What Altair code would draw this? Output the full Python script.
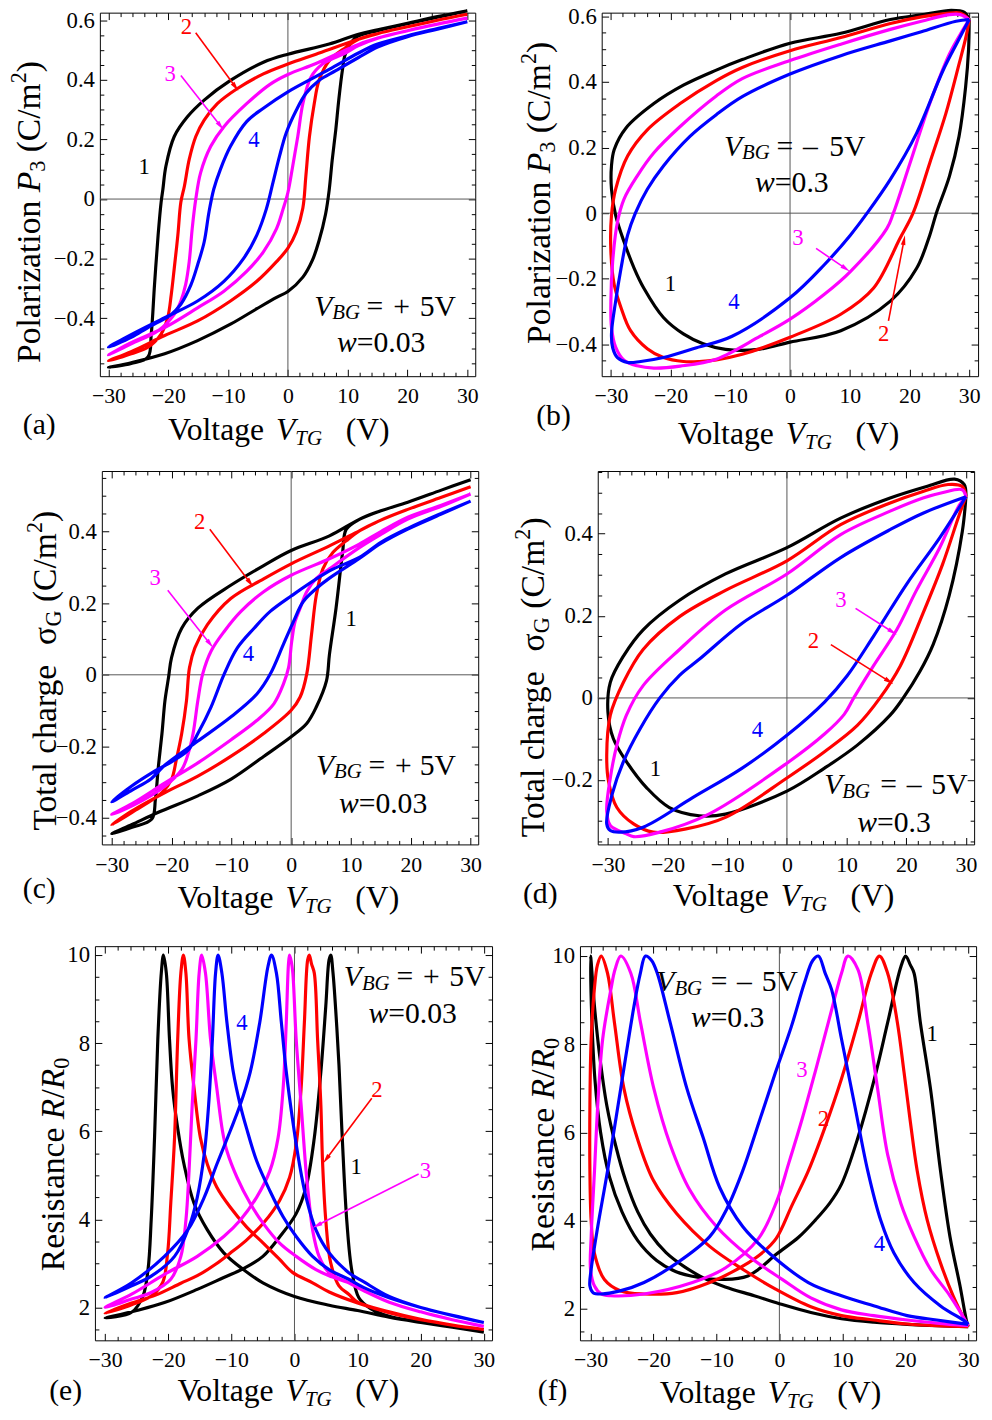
import math
import altair as alt
import pandas as pd

FONT = "Liberation Serif"
CURVE_COLORS = ["#000000", "#ff0000", "#ff00ff", "#0000ff"]

# ---------------- data: (V_TG, value) along each hysteresis loop ----------------
a1 = [(30,0.632),(25,0.612),(20,0.59),(15,0.568),(11.8,0.553),(6.9,0.52),(0,0.486),(-4.1,0.459),(-9.6,0.398),(-14,0.332),(-16.8,0.276),(-19,0.21),(-20.4,0.11),(-20.9,0.033),(-21.2,-0.011),(-21.7,-0.121),(-22.3,-0.287),(-22.85,-0.453),(-23.4,-0.53),(-26.2,-0.552),(-30,-0.565),
      (-26.2,-0.549),(-20.6,-0.519),(-15.1,-0.475),(-9.6,-0.42),(-5.2,-0.368),(-1.9,-0.33),(0,-0.31),(2.5,-0.262),(4.1,-0.205),(5.2,-0.14),(6.3,-0.05),(6.9,0.03),(7.4,0.13),(8,0.232),(8.5,0.332),(9.1,0.431),(9.6,0.486),(11.3,0.541),(15,0.565),(20,0.588),(25,0.61),(30,0.632)]
a2 = [(30,0.62),(25,0.6),(20,0.578),(15,0.555),(11.8,0.536),(4.7,0.486),(0,0.453),(-4.1,0.42),(-8.5,0.37),(-11.8,0.32),(-14,0.265),(-15.4,0.21),(-16.5,0.133),(-17.3,0.044),(-17.9,-0.011),(-18.4,-0.121),(-19,-0.232),(-19.5,-0.32),(-20.1,-0.398),(-21.2,-0.453),(-23.4,-0.497),(-26.2,-0.519),(-30,-0.543),
      (-26.2,-0.512),(-20.6,-0.458),(-15.1,-0.409),(-9.6,-0.342),(-5.2,-0.276),(-1.9,-0.21),(0,-0.165),(1.4,-0.11),(2.5,-0.03),(3,0.077),(3.6,0.21),(4.4,0.32),(5.2,0.398),(6.9,0.464),(9.6,0.508),(11.8,0.536),(15,0.555),(20,0.578),(25,0.6),(30,0.62)]
a3 = [(30,0.607),(25,0.587),(20,0.565),(15,0.54),(11.8,0.519),(4.7,0.455),(0,0.418),(-3,0.385),(-6.9,0.32),(-10.7,0.243),(-12.9,0.177),(-14.6,0.088),(-15.4,0),(-16,-0.099),(-16.5,-0.21),(-17.1,-0.287),(-17.9,-0.342),(-19,-0.387),(-21.7,-0.442),(-26.2,-0.486),(-30,-0.523),
      (-26.2,-0.482),(-20.6,-0.431),(-15.1,-0.365),(-10.7,-0.309),(-6.9,-0.243),(-4.1,-0.177),(-1.9,-0.099),(-0.8,-0.033),(0,0.022),(0.8,0.11),(1.65,0.21),(2.5,0.32),(3.85,0.409),(5.8,0.453),(9.6,0.49),(11.8,0.515),(15,0.54),(20,0.565),(25,0.587),(30,0.607)]
a4 = [(30,0.595),(25,0.572),(20,0.548),(15,0.52),(11.8,0.49),(6.9,0.435),(0,0.36),(-4.1,0.305),(-6.9,0.26),(-9.6,0.177),(-11.3,0.099),(-12.4,0.033),(-13.2,-0.044),(-14,-0.144),(-15.1,-0.221),(-16.2,-0.287),(-17.9,-0.353),(-19.5,-0.387),(-23.4,-0.431),(-26.2,-0.464),(-30,-0.497),
      (-26.2,-0.455),(-20.6,-0.398),(-15.1,-0.342),(-10.7,-0.276),(-7.4,-0.199),(-5.2,-0.121),(-3.6,-0.033),(-2.5,0.055),(-1.4,0.144),(-0.3,0.221),(1.4,0.298),(3,0.354),(5.2,0.398),(8,0.431),(11.8,0.475),(15,0.51),(20,0.545),(25,0.57),(30,0.595)]

b1 = [(30,0.59),(29.2,0.612),(27,0.618),(22.3,0.605),(16.8,0.59),(8.5,0.548),(0,0.518),(-8,0.468),(-12.35,0.436),(-17.86,0.39),(-22.8,0.334),(-27.5,0.259),(-29.44,0.194),(-29.9,0.144),(-29.9,0.073),(-29.2,-0.007),(-27.8,-0.087),(-26.1,-0.168),(-24.5,-0.228),(-21.2,-0.318),(-17.86,-0.368),(-14.55,-0.398),(-10.8,-0.415),(-5.3,-0.415),(0,-0.393),(8.5,-0.358),(16.8,-0.268),(21.2,-0.168),(23.4,-0.067),(24.5,0),(26.7,0.113),(28.3,0.234),(29.4,0.384),(29.9,0.5),(30,0.59)]
b2 = [(30,0.59),(28.5,0.61),(26,0.608),(22,0.598),(16.8,0.578),(8.5,0.535),(0,0.495),(-8,0.444),(-12.35,0.404),(-18.4,0.334),(-23.9,0.254),(-27.2,0.174),(-29.2,0.073),(-29.9,-0.007),(-30,-0.117),(-29.44,-0.218),(-28.3,-0.288),(-26.7,-0.358),(-23.9,-0.413),(-21.2,-0.44),(-17.86,-0.452),(-15.2,-0.452),(-12.35,-0.447),(-8,-0.43),(0,-0.378),(8.5,-0.308),(14,-0.228),(18.4,-0.077),(20.6,0),(23.4,0.153),(26.1,0.304),(28.3,0.454),(29.5,0.54),(30,0.59)]
b3 = [(30,0.59),(28.5,0.605),(26.7,0.605),(22,0.585),(16.8,0.56),(8.5,0.515),(0,0.465),(-8,0.41),(-12.35,0.357),(-18.4,0.264),(-22.8,0.184),(-25.6,0.113),(-27.8,0.043),(-28.9,-0.027),(-29.7,-0.147),(-30,-0.268),(-29.9,-0.348),(-29.2,-0.408),(-27.8,-0.448),(-25.6,-0.465),(-22.8,-0.472),(-18.4,-0.466),(-12.35,-0.445),(-5,-0.375),(0,-0.323),(5.7,-0.248),(10.1,-0.178),(16.2,-0.047),(17.3,0),(20.1,0.153),(23.4,0.334),(26.7,0.485),(29,0.56),(30,0.59)]
b4 = [(30,0.59),(27.8,0.585),(22,0.553),(16.8,0.525),(8.5,0.48),(0,0.424),(-8,0.355),(-12.35,0.3),(-16.76,0.234),(-21.2,0.144),(-23.9,0.073),(-25.9,0),(-27.2,-0.067),(-28.3,-0.168),(-29.2,-0.268),(-29.9,-0.368),(-29.7,-0.41),(-28.9,-0.44),(-27.2,-0.455),(-25,-0.452),(-21.2,-0.44),(-15.66,-0.41),(-9.7,-0.375),(0,-0.258),(5.7,-0.158),(10.1,-0.067),(12.9,0),(16.8,0.103),(21.2,0.244),(25.6,0.434),(28,0.52),(30,0.59)]

c1 = [(30,0.545),(25,0.515),(19.5,0.482),(15,0.458),(11.4,0.434),(6.4,0.388),(0,0.347),(-4.6,0.305),(-10.1,0.25),(-15.6,0.186),(-18.3,0.13),(-20,0.048),(-20.5,-0.007),(-21.1,-0.072),(-21.6,-0.164),(-22.2,-0.256),(-22.7,-0.348),(-23.3,-0.403),(-26.6,-0.426),(-30,-0.444),
      (-26.6,-0.418),(-22.2,-0.384),(-15.6,-0.338),(-10.1,-0.292),(-4.6,-0.228),(0,-0.173),(2.6,-0.136),(4.2,-0.09),(5.9,-0.017),(6.4,0.057),(7.5,0.186),(8.6,0.342),(9.2,0.406),(11.4,0.434),(15,0.458),(19.5,0.482),(25,0.515),(30,0.545)]
c2 = [(30,0.525),(25,0.495),(19.5,0.462),(15,0.432),(11.4,0.402),(6.4,0.36),(0,0.31),(-4.6,0.268),(-10.1,0.213),(-14,0.14),(-16.1,0.075),(-17,0.02),(-17.5,-0.072),(-18.3,-0.164),(-19.2,-0.237),(-20,-0.292),(-21.6,-0.329),(-26.6,-0.384),(-30,-0.419),
      (-26.6,-0.38),(-21.1,-0.329),(-15.6,-0.283),(-10.1,-0.228),(-4.6,-0.164),(0,-0.099),(1.5,-0.062),(2.6,0.002),(3.4,0.112),(4.2,0.222),(5.3,0.296),(7,0.342),(9.2,0.374),(11.4,0.402),(15,0.432),(19.5,0.462),(25,0.495),(30,0.525)]
c3 = [(30,0.505),(25,0.473),(19.5,0.44),(15,0.4),(11.4,0.365),(6.4,0.324),(0,0.278),(-4.6,0.232),(-8.4,0.177),(-11.2,0.121),(-13.4,0.066),(-14.8,0.002),(-15.6,-0.072),(-16.4,-0.164),(-17.2,-0.219),(-18.3,-0.265),(-21.1,-0.311),(-26.6,-0.366),(-30,-0.39),
      (-26.6,-0.36),(-21.1,-0.302),(-15.6,-0.246),(-10.1,-0.182),(-5.7,-0.127),(-2.9,-0.081),(-1.3,-0.026),(-0.44,0.02),(0.1,0.094),(0.66,0.149),(1.5,0.186),(2.6,0.232),(4.2,0.269),(6.4,0.296),(11.4,0.355),(15,0.392),(19.5,0.435),(25,0.47),(30,0.505)]
c4 = [(30,0.485),(25,0.45),(19.5,0.409),(15,0.37),(11.4,0.328),(6.4,0.29),(0,0.22),(-3.5,0.177),(-6.2,0.13),(-9,0.075),(-11.2,0.002),(-13.4,-0.09),(-15.6,-0.164),(-17.2,-0.21),(-19.4,-0.237),(-23.3,-0.274),(-26.6,-0.31),(-30,-0.355),
      (-26.6,-0.322),(-23.4,-0.29),(-21.1,-0.252),(-15.6,-0.185),(-10.1,-0.118),(-5.7,-0.053),(-3.5,0.002),(-1.3,0.085),(0.4,0.149),(2,0.204),(4.2,0.241),(6.4,0.27),(11.4,0.325),(15,0.367),(19.5,0.407),(25,0.448),(30,0.485)]

d1 = [(30,0.49),(29.7,0.52),(28.1,0.533),(23.4,0.515),(17.3,0.487),(9,0.438),(0,0.366),(-10.3,0.302),(-18,0.238),(-24.1,0.166),(-27.4,0.102),(-29.6,0.038),(-30,-0.034),(-29.1,-0.099),(-26.9,-0.155),(-23.5,-0.219),(-19.7,-0.267),(-14.7,-0.287),(-10.3,-0.283),(0,-0.227),(6.3,-0.171),(11.8,-0.115),(17.3,-0.042),(19.5,0),(22.3,0.065),(24.5,0.13),(27.2,0.25),(29.4,0.406),(30,0.49)]
d2 = [(30,0.49),(29.4,0.515),(27,0.52),(22.8,0.503),(17.3,0.475),(9,0.422),(0,0.334),(-10.3,0.262),(-18,0.198),(-24.1,0.118),(-27.4,0.038),(-29.6,-0.042),(-30.2,-0.139),(-29.9,-0.203),(-28.5,-0.267),(-25.7,-0.307),(-22.4,-0.327),(-16.9,-0.319),(-10.3,-0.291),(0,-0.195),(6.3,-0.131),(11.8,-0.067),(15.6,0),(19,0.078),(22.8,0.206),(26.1,0.326),(28.9,0.447),(30,0.49)]
d3 = [(30,0.49),(29.4,0.507),(26,0.5),(22.8,0.487),(17.3,0.455),(9,0.398),(0,0.302),(-10.3,0.214),(-18,0.118),(-24.1,0.03),(-26.9,-0.042),(-28.5,-0.115),(-29.6,-0.195),(-30.2,-0.275),(-29.6,-0.311),(-26.9,-0.331),(-25.7,-0.338),(-21.3,-0.327),(-13.1,-0.283),(0,-0.159),(6.3,-0.088),(9.6,-0.04),(11.2,0),(14.5,0.078),(18.4,0.166),(21.7,0.262),(25.6,0.366),(28.9,0.47),(30,0.49)]
d4 = [(30,0.49),(22.8,0.45),(17.3,0.41),(9,0.342),(0,0.25),(-7.5,0.182),(-14.7,0.094),(-18,0.055),(-21.3,0),(-24.6,-0.075),(-27.4,-0.155),(-29.3,-0.235),(-30.2,-0.307),(-29.6,-0.323),(-28,-0.327),(-24.1,-0.315),(-15.8,-0.243),(-7.5,-0.171),(0,-0.091),(6.3,-0.01),(10.1,0.054),(14.5,0.15),(20.1,0.278),(25.6,0.39),(30,0.49)]

e1 = [(30,1.44),(25,1.55),(20,1.66),(15,1.78),(10,1.93),(5.5,2.05),(0,2.25),(-5,2.56),(-8.1,2.86),(-11.2,3.24),(-13.8,3.76),(-15.9,4.36),(-17.5,5.25),(-18.5,6.07),(-19.3,6.97),(-19.8,8.09),(-20.3,9.59),(-20.76,10),(-21.1,9.59),(-21.65,8.09),(-22.17,5.85),(-22.7,3.98),(-23.2,2.86),(-24,2.26),(-25.8,1.89),(-30,1.76),
      (-25,1.93),(-20.6,2.11),(-15.4,2.41),(-11.2,2.68),(-8.1,2.88),(-5,3.16),(-2.3,3.61),(0.27,4.13),(1.83,4.73),(3.14,5.85),(4.18,7.35),(4.96,8.84),(5.48,9.89),(5.75,10),(6.1,9.6),(6.6,8.6),(7.05,7.5),(7.57,5.85),(8.3,3.94),(9.1,2.82),(10.2,2.22),(12,1.98),(15,1.8),(20,1.67),(25,1.55),(30,1.44)]
e2 = [(30,1.5),(25,1.6),(20,1.72),(15,1.88),(10,2.1),(5.5,2.35),(2.87,2.56),(-0.26,2.79),(-2.35,3.09),(-4.95,3.46),(-7.6,3.83),(-10.2,4.28),(-12.3,4.73),(-13.8,5.25),(-14.9,5.85),(-15.9,6.97),(-16.7,8.09),(-17.2,9.59),(-17.6,10),(-18,9.59),(-18.5,8.09),(-19,5.85),(-19.6,4.36),(-20.1,3.23),(-20.9,2.56),(-22.7,2.26),(-25.8,2.06),(-30,1.87),
      (-25.8,2.1),(-22,2.28),(-18,2.55),(-15.4,2.72),(-12.5,2.98),(-10.2,3.23),(-7.6,3.53),(-4.95,3.91),(-2.35,4.43),(-0.78,4.95),(0.27,5.7),(1.05,6.97),(1.57,8.47),(2.09,9.89),(2.35,10),(2.7,9.8),(3.14,9.59),(3.66,8.09),(4.18,6.6),(4.44,5.33),(4.96,3.98),(5.74,3.01),(7.05,2.49),(8.6,2.3),(10,2.12),(15,1.9),(20,1.73),(25,1.6),(30,1.5)]
e3 = [(30,1.57),(25,1.72),(20,1.9),(15,2.12),(11,2.38),(8.6,2.56),(5.48,2.72),(3.4,2.86),(0.27,3.16),(-2.35,3.46),(-4.95,3.91),(-7,4.36),(-9.1,4.95),(-10.7,5.55),(-11.4,6.0),(-12.3,6.97),(-13.3,8.09),(-14.1,9.59),(-14.7,10),(-15.1,9.59),(-15.6,8.09),(-16.2,6.6),(-16.7,5.1),(-17.2,3.98),(-18,3.16),(-19.6,2.64),(-22.7,2.34),(-25.8,2.19),(-30,2.0),
      (-25.8,2.3),(-20.6,2.75),(-15.4,3.16),(-11.2,3.61),(-8.6,3.98),(-6,4.5),(-3.9,5.1),(-2.6,5.85),(-1.8,6.97),(-1.3,8.47),(-0.95,9.8),(-0.78,10),(-0.5,9.85),(-0.26,9.59),(0.27,8.09),(1.05,6.6),(1.83,5.1),(2.35,4.36),(2.87,3.76),(3.9,3.16),(5.48,2.79),(8.6,2.56),(11,2.38),(15,2.12),(20,1.9),(25,1.72),(30,1.57)]
e4 = [(30,1.66),(25,1.82),(20,2.0),(15,2.22),(11,2.45),(8.6,2.64),(5.48,2.86),(2.87,3.16),(0.27,3.61),(-1.8,4.06),(-3.9,4.65),(-6,5.33),(-7.6,6.07),(-8.6,6.6),(-9.7,7.35),(-10.7,8.47),(-11.5,9.59),(-12.1,10),(-12.5,9.59),(-13,8.09),(-13.6,6.6),(-14.3,5.48),(-15.4,4.5),(-16.7,3.83),(-19,3.16),(-22.7,2.71),(-25.8,2.49),(-30,2.22),
      (-25.8,2.56),(-20.6,3.16),(-16.9,3.76),(-14.3,4.5),(-12.3,5.25),(-10.2,6.0),(-8.6,6.6),(-7,7.35),(-5.5,8.47),(-4.2,9.74),(-3.64,10),(-2.86,9.59),(-2.08,8.47),(-1.3,7.35),(-0.26,6.22),(0.79,5.25),(1.83,4.5),(3.4,3.76),(5.48,3.24),(8.6,2.79),(11,2.58),(15,2.25),(20,2.0),(25,1.82),(30,1.66)]

f1 = [(30,1.6),(25,1.62),(20.3,1.65),(15,1.7),(9.87,1.78),(5,1.92),(0,2.12),(-4,2.3),(-8.6,2.5),(-12,2.7),(-15,2.95),(-18,3.28),(-20.5,3.7),(-22.5,4.2),(-24.4,4.9),(-26,5.7),(-27.4,6.6),(-28.6,7.8),(-29.4,8.9),(-30,10),
      (-29.8,8.6),(-29.3,7.2),(-28.4,6.0),(-27,5.0),(-25,4.2),(-22.5,3.55),(-19.5,3.1),(-16.5,2.85),(-13,2.72),(-8.6,2.67),(-5,2.75),(-3.3,2.9),(-0.4,3.25),(3,3.62),(5.68,4.01),(8,4.4),(9.87,4.83),(12.47,5.88),(15.1,7.22),(17.2,8.49),(19.3,9.76),(20.06,10),(20.8,9.8),(21.4,9.61),(22.4,8.49),(24,7.0),(25.6,5.13),(27.1,3.64),(28.7,2.52),(29.7,1.75),(30,1.6)]
f2 = [(30,1.6),(25,1.62),(20.3,1.66),(15,1.75),(9.87,1.85),(5,2.05),(-0.6,2.45),(-5.83,2.9),(-11.07,3.42),(-16.3,4.16),(-20,4.91),(-22.6,5.88),(-24.7,7.0),(-26.2,8.49),(-27.3,9.61),(-28.3,10),(-28.9,9.8),(-29.4,9.24),(-29.9,8.12),(-30.1,6.63),(-30.1,5.13),
      (-29.9,4.0),(-29.4,3.27),(-27.8,2.67),(-25.2,2.41),(-21.5,2.34),(-16.3,2.37),(-11.07,2.6),(-5.83,2.97),(-2.5,3.3),(-0.5,3.6),(2,4.35),(4.6,5.13),(7.2,6.1),(9.87,7.22),(12.47,8.49),(14.6,9.61),(15.9,10),(17.2,9.61),(18.75,8.49),(19.8,7.37),(20.8,6.25),(21.9,5.13),(23.5,4.01),(25.6,3.04),(27.6,2.3),(29.7,1.68),(30,1.6)]
f3 = [(30,1.62),(25,1.68),(20.3,1.75),(15,1.85),(9.87,1.98),(5,2.25),(0.45,2.67),(-4.8,3.19),(-10,3.87),(-14.2,4.69),(-17.35,5.73),(-19.95,7.0),(-22.06,8.49),(-23.6,9.61),(-25.2,10),(-26.1,9.7),(-26.77,9.24),(-28.07,8.12),(-28.85,6.63),(-29.37,5.13),(-29.9,3.64),(-30,2.9),
      (-29.37,2.52),(-28.3,2.34),(-26.8,2.3),(-21.5,2.34),(-13.8,2.6),(-8.6,2.93),(-3.3,3.6),(-0.4,4.45),(1.48,5.3),(3.6,6.3),(5.68,7.37),(7.77,8.49),(9.87,9.61),(10.9,10),(12.47,9.7),(14.04,8.49),(15.6,7.0),(17.2,5.5),(19.3,4.39),(21.4,3.64),(24,2.9),(27.1,2.3),(29.7,1.7),(30,1.62)]
f4 = [(30,1.65),(25,1.75),(20.3,1.85),(15.1,2.07),(9.87,2.3),(4.6,2.6),(-1.65,3.27),(-5.83,3.87),(-9.5,4.76),(-12.1,5.88),(-14.7,7.0),(-17.35,8.49),(-19.4,9.61),(-20.3,9.9),(-21.27,10),(-22.1,9.6),(-23.1,8.86),(-25.2,7.0),(-27.3,5.13),(-28.85,3.87),(-29.9,2.9),(-30.1,2.52),
      (-29.6,2.37),(-28.3,2.34),(-25.3,2.41),(-21.5,2.6),(-16.3,3.04),(-11.07,3.64),(-8.45,4.24),(-5.83,5.13),(-3.2,6.25),(-0.6,7.37),(1.9,8.4),(4,9.4),(5.3,9.9),(6.2,10),(7.3,9.6),(8.3,9.24),(9.87,8.12),(11.95,6.63),(14.04,5.13),(16.1,4.01),(18.2,3.27),(21.4,2.6),(25.6,2.07),(29.7,1.7),(30,1.65)]

XT = [-30, -20, -10, 0, 10, 20, 30]
YT_AB = [-0.4, -0.2, 0, 0.2, 0.4, 0.6]
YT_C = [-0.4, -0.2, 0, 0.2, 0.4]
YT_D = [-0.2, 0, 0.2, 0.4]
YT_EF = [2, 4, 6, 8, 10]

RW = {' ': .25, '(': .333, ')': .333, '/': .278, '=': .564, '+': .564, '–': .5, '.': .25,
      'P': .556, 'o': .5, 'l': .278, 'a': .444, 'r': .333, 'i': .278, 'z': .444, 't': .278,
      'n': .5, 'T': .611, 'c': .444, 'h': .5, 'g': .5, 'e': .444, 'C': .667, 'm': .778,
      'R': .667, 's': .389, 'σ': .55, 'V': .722, 'G': .722, 'B': .667, 'w': .722}
IW = {'V': .611, 'B': .611, 'G': .722, 'T': .556, 'P': .611, 'R': .611, 'w': .667}


def tw(s, italic):
    tab = IW if italic else RW
    return sum(tab.get(ch, RW.get(ch, 0.5)) for ch in s)


def run(pieces, x0, y0, size, vertical=False):
    out, adv = [], 0.0
    for txt, st in pieces:
        it = st in ('i', 'isub')
        small = st in ('sub', 'isub', 'sup')
        fs = size * (0.66 if small else 1.0)
        shift = size * 0.15 if st in ('sub', 'isub') else (-size * 0.42 if st == 'sup' else 0.0)
        if txt.strip():
            if vertical:
                out.append((txt, x0 + shift, y0 - adv, fs, it, 270, '#000000'))
            else:
                out.append((txt, x0 + adv, y0 + shift, fs, it, 0, '#000000'))
        adv += tw(txt, it) * fs
    return out


def vbg(sign, xv, base, xbg, xeq, xs, x5, xw, xweq, basew, wtext):
    k = '#000000'
    return [("V", xv, base, 30, True, 0, k), ("BG", xbg, base + 3.3, 21, True, 0, k),
            ("=", xeq, base, 30, False, 0, k), (sign, xs, base, 30, False, 0, k),
            ("5V", x5, base, 30, False, 0, k), ("w", xw, basew, 30, True, 0, k),
            (wtext, xweq, basew, 30, False, 0, k)]


def num(t, x, y, ci):
    return (t, x, y, 23, False, 0, CURVE_COLORS[ci])


PIECES_P = [("Polarization", 'n'), (" ", 'n'), ("P", 'i'), ("3", 'sub'), (" ", 'n'), ("(C/m", 'n'), ("2", 'sup'), (")", 'n')]
PIECES_S = [("Total charge", 'n'), ("  ", 'n'), ("σ", 'n'), ("G", 'sub'), (" ", 'n'), ("(C/m", 'n'), ("2", 'sup'), (")", 'n')]
PIECES_R = [("Resistance", 'n'), (" ", 'n'), ("R", 'i'), ("/", 'n'), ("R", 'i'), ("0", 'sub')]
PIECES_X = [("Voltage", 'n'), (" ", 'n'), ("V", 'i'), ("TG", 'isub'), ("   ", 'n'), ("(V)", 'n')]

PANELS = {
    'a': dict(left=98, top=8, w=380, h=368, box=(3, 500, -6, 460),
              xd=(-31.437, 31.321), yd=(-0.5943, 0.6255), yt=YT_AB,
              ystep=0.05, curves=[a1, a2, a3, a4], zero_h=True,
              texts=run(PIECES_P, 37.3, 362.7, 34, True) + run(PIECES_X, 167, 440.7, 32)
              + [("(a)", 20, 435, 30, False, 0, '#000000')]
              + vbg('+', 315, 315, 333.3, 368, 395, 421.7, 338, 358, 351.7, '=0.03')
              + [num("1", 137, 171.7, 0), num("2", 180, 30, 1), num("3", 163.3, 76.7, 2), num("4", 248.3, 144, 3)],
              arrows=[(195, 28.3, 238.3, 87.3, 1), (180, 71.7, 223.3, 126.7, 2)]),
    'b': dict(left=604, top=8, w=381, h=368, box=(500, 990, -6, 460),
              xd=(-31.538, 31.489), yd=(-0.4967, 0.611), yt=YT_AB,
              ystep=0.05, curves=[b1, b2, b3, b4], zero_h=True,
              texts=run(PIECES_P, 552, 343.3, 34, True) + run(PIECES_X, 681, 445, 32)
              + [("(b)", 537.7, 425, 30, False, 0, '#000000')]
              + vbg('–', 727.7, 153.3, 746, 781, 807.7, 834.3, 759.3, 779.3, 190, '=0.3')
              + [num("1", 667.7, 290, 0), num("4", 732, 308.3, 3), num("3", 797, 243.3, 2), num("2", 883.7, 340, 1)],
              arrows=[(821, 246.7, 855.3, 270, 2), (894.3, 320, 911, 233.3, 1)]),
    'c': dict(left=100, top=466, w=381, h=378, box=(3, 498, 456, 928),
              xd=(-31.652, 31.272), yd=(-0.4737, 0.5691), yt=YT_C,
              ystep=0.05, curves=[c1, c2, c3, c4], zero_h=True,
              texts=run(PIECES_S, 53.5, 830, 34, True) + run(PIECES_X, 176.7, 908.3, 32)
              + [("(c)", 20, 898.3, 30, False, 0, '#000000')]
              + vbg('+', 316.7, 773.3, 335, 370, 396.7, 421.7, 340, 360, 811.7, '=0.03')
              + [num("2", 193.3, 525, 1), num("3", 148.3, 581.7, 2), num("4", 242.7, 658.3, 3), num("1", 346.7, 622.7, 0)],
              arrows=[(209.3, 525, 253.3, 583.3, 1), (166.7, 586.7, 212.7, 645, 2)]),
    'd': dict(left=600, top=466, w=381, h=378, box=(498, 990, 456, 928),
              xd=(-31.705, 31.374), yd=(-0.3569, 0.5528), yt=YT_D,
              ystep=0.05, curves=[d1, d2, d3, d4], zero_h=True,
              texts=run(PIECES_S, 546, 836.7, 34, True) + run(PIECES_X, 676, 906.7, 32)
              + [("(d)", 524.3, 903.3, 30, False, 0, '#000000')]
              + vbg('–', 829.3, 793.3, 847.6, 886, 912.7, 937.7, 862.7, 882.7, 831.7, '=0.3')
              + [num("3", 840.3, 603.3, 2), num("2", 812.7, 645, 1), num("4", 756, 735, 3), num("1", 652.7, 775, 0)],
              arrows=[(861, 605, 902.7, 631.7, 2), (836, 641.7, 899.3, 681.7, 1)]),
    'e': dict(left=93, top=941, w=402, h=399, box=(3, 510, 924, 1415),
              xd=(-31.612, 31.299), yd=(1.2536, 10.2018), yt=YT_EF,
              ystep=0.5, curves=[e1, e2, e3, e4], zero_h=False,
              texts=run(PIECES_R, 61.7, 1270, 34, True) + run(PIECES_X, 176.7, 1401.7, 32)
              + [("(e)", 46.7, 1400, 30, False, 0, '#000000')]
              + vbg('+', 345, 981.7, 363.3, 398.3, 425, 451.7, 370, 390, 1018.3, '=0.03')
              + [num("4", 236, 1026, 3), num("2", 372.7, 1094, 1), num("1", 351.7, 1171.7, 0), num("3", 421.7, 1176, 2)],
              arrows=[(373.3, 1095, 324, 1160.7, 1), (420.7, 1171.7, 313.3, 1226, 2)]),
    'f': dict(left=582, top=941, w=401, h=399, box=(510, 990, 924, 1415),
              xd=(-31.679, 31.252), yd=(1.2898, 10.2239), yt=YT_EF,
              ystep=0.5, curves=[f1, f2, f3, f4], zero_h=False,
              texts=run(PIECES_R, 556, 1250, 34, True) + run(PIECES_X, 662.7, 1403.3, 32)
              + [("(f)", 539.3, 1400, 30, False, 0, '#000000')]
              + vbg('–', 659.3, 986.7, 677.6, 714.3, 741, 766, 694.3, 714.3, 1023.3, '=0.3')
              + [num("1", 932.7, 1036.7, 0), num("3", 801, 1073.3, 2), num("2", 822.7, 1123.3, 1), num("4", 879.3, 1250, 3)],
              arrows=[]),
}

HEAD_PATH = "M0,-1L0.42,0.8L-0.42,0.8Z"
HEAD_LEN = 10.0


def minor_vals(lo, hi, step, major_step):
    out = []
    k = math.ceil(lo / step)
    while k * step <= hi:
        v = round(k * step, 4)
        r = v / major_step
        if abs(r - round(r)) > 1e-6:
            out.append(v)
        k += 1
    return out


def tick_layer(df, xs, ys, xv, yv, size, xo, yo):
    common = dict(labels=False, domain=False, grid=False, title=None, ticks=True, tickSize=size,
                  offset=-size, tickColor='black', tickWidth=1, minExtent=0, maxExtent=0)
    return alt.Chart(df).mark_point(opacity=0).encode(
        x=alt.X('x:Q', scale=xs, axis=alt.Axis(orient=xo, values=xv, **common)),
        y=alt.Y('y:Q', scale=ys, axis=alt.Axis(orient=yo, values=yv, **common)))


def layout_rect(x0, x1, y0, y1):
    return alt.Chart(pd.DataFrame({'z': [0]})).mark_rect(color='white', opacity=0.01).encode(
        x=alt.value(x0), x2=alt.value(x1), y=alt.value(y0), y2=alt.value(y1))


def build(key):
    P = PANELS[key]
    xd, yd = P['xd'], P['yd']
    xs = alt.Scale(domain=list(xd), nice=False, zero=False)
    ys = alt.Scale(domain=list(yd), nice=False, zero=False)

    def conv(px, py):
        x = xd[0] + (px - P['left']) / P['w'] * (xd[1] - xd[0])
        y = yd[1] - (py - P['top']) / P['h'] * (yd[1] - yd[0])
        return x, y

    rows = []
    for ci, pts in enumerate(P['curves']):
        for j, (vx, vy) in enumerate(pts):
            rows.append({'x': vx, 'y': vy, 'k': 'c%d' % ci, 'col': CURVE_COLORS[ci], 'i': j})
    df = pd.DataFrame(rows)

    is_res = key in ('e', 'f')
    if is_res:
        ylab = dict(format='d')
    else:
        ylab = dict(labelExpr="datum.value == 0 ? '0' : format(datum.value, '.1f')")
    xaxis = alt.Axis(values=XT, title=None, grid=False, domain=False, ticks=True, tickSize=7, offset=-7,
                     tickColor='black', tickWidth=1, labelFont=FONT, labelFontSize=22, labelColor='black',
                     labelPadding=10, labelFlush=False, labelOverlap=False, format='d', minExtent=0)
    yaxis = alt.Axis(values=P['yt'], title=None, grid=False, domain=False, ticks=True, tickSize=7, offset=-7,
                     tickColor='black', tickWidth=1, labelFont=FONT, labelFontSize=23, labelColor='black',
                     labelPadding=5.5, labelFlush=False, labelOverlap=False, minExtent=0, **ylab)

    layers = []
    bx0, bx1, by0, by1 = P['box']
    layers.append(layout_rect(bx0 - P['left'], bx1 - P['left'], by0 - P['top'], by1 - P['top']))
    layers.append(alt.Chart(pd.DataFrame({'x': [0.0]})).mark_rule(color='#555555', strokeWidth=1)
                  .encode(x=alt.X('x:Q', scale=xs)))
    if P['zero_h']:
        layers.append(alt.Chart(pd.DataFrame({'y': [0.0]})).mark_rule(color='#555555', strokeWidth=1)
                      .encode(y=alt.Y('y:Q', scale=ys)))
    layers.append(alt.Chart(df).mark_line(strokeWidth=3.2, interpolate='catmull-rom', strokeJoin='round',
                                          clip=False).encode(
        x=alt.X('x:Q', scale=xs, axis=xaxis), y=alt.Y('y:Q', scale=ys, axis=yaxis),
        color=alt.Color('col:N', scale=None), detail='k:N', order='i:Q'))
    if P['arrows']:
        arows, heads = [], []
        for n, (x1, y1, x2, y2, ci) in enumerate(P['arrows']):
            dx, dy = x2 - x1, y2 - y1
            L = math.hypot(dx, dy)
            ux, uy = dx / L, dy / L
            for j, (px, py) in enumerate([(x1, y1), (x2 - ux * HEAD_LEN * 0.6, y2 - uy * HEAD_LEN * 0.6)]):
                X, Y = conv(px, py)
                arows.append({'x': X, 'y': Y, 'k': 'a%d' % n, 'col': CURVE_COLORS[ci], 'i': j})
            X, Y = conv(x2 - ux * HEAD_LEN * 0.556, y2 - uy * HEAD_LEN * 0.556)
            heads.append({'x': X, 'y': Y, 'col': CURVE_COLORS[ci],
                          'a': math.degrees(math.atan2(ux, -uy)) % 360})
        layers.append(alt.Chart(pd.DataFrame(arows)).mark_line(strokeWidth=1.6).encode(
            x=alt.X('x:Q', scale=xs), y=alt.Y('y:Q', scale=ys),
            color=alt.Color('col:N', scale=None), detail='k:N', order='i:Q'))
        layers.append(alt.Chart(pd.DataFrame(heads)).mark_point(shape=HEAD_PATH, filled=True, size=124,
                                                                opacity=1, strokeWidth=0).encode(
            x=alt.X('x:Q', scale=xs), y=alt.Y('y:Q', scale=ys),
            color=alt.Color('col:N', scale=None), angle=alt.Angle('a:Q', scale=None)))
    trows = []
    for (t, px, py, s, it, a, col) in P['texts']:
        X, Y = conv(px, py)
        trows.append({'x': X, 'y': Y, 't': t, 's': s, 'it': it, 'a': a, 'col': col})
    tdf = pd.DataFrame(trows)
    for italic in (False, True):
        sub = tdf[tdf['it'] == italic].drop(columns=['it'])
        if len(sub) == 0:
            continue
        mk = dict(font=FONT, align='left', baseline='alphabetic')
        if italic:
            mk['fontStyle'] = 'italic'
        layers.append(alt.Chart(sub).mark_text(**mk).encode(
            x=alt.X('x:Q', scale=xs), y=alt.Y('y:Q', scale=ys), text='t:N',
            size=alt.Size('s:Q', scale=None), angle=alt.Angle('a:Q', scale=None),
            color=alt.Color('col:N', scale=None)))

    main = alt.layer(*layers)
    xminor = minor_vals(xd[0], xd[1], 2, 10)
    ymaj_step = 2 if is_res else 0.2
    yminor = minor_vals(yd[0], yd[1], P['ystep'], ymaj_step)
    dsmall = df.head(1)
    t1 = tick_layer(dsmall, xs, ys, XT, P['yt'], 7, 'top', 'right')
    t2 = tick_layer(dsmall, xs, ys, xminor, yminor, 4, 'bottom', 'left')
    t3 = tick_layer(dsmall, xs, ys, xminor, yminor, 4, 'top', 'right')
    return alt.layer(main, t1, t2, t3).resolve_scale(x='independent', y='independent').properties(
        width=P['w'], height=P['h'])


def spacer():
    return layout_rect(0, 1, 0, 1).properties(width=1, height=1,
                                             view=alt.ViewBackground(stroke='transparent'))


pa, pb, pc, pd_, pe, pf = [build(k) for k in 'abcdef']
row1 = alt.hconcat(spacer(), pa, pb, spacing=0)
row2 = alt.hconcat(spacer(), pc, pd_, spacing=0)
row3 = alt.hconcat(spacer(), pe, pf, spacing=0)
chart = alt.vconcat(row1, row2, row3, spacing=0).properties(
    padding={'left': -6, 'top': -19, 'right': 0, 'bottom': 0},
    background='white',
).configure_view(stroke='black', strokeWidth=1).configure_axis(labelFont=FONT)

chart.save("out.html", embed_options={"renderer": "svg", "actions": False})
